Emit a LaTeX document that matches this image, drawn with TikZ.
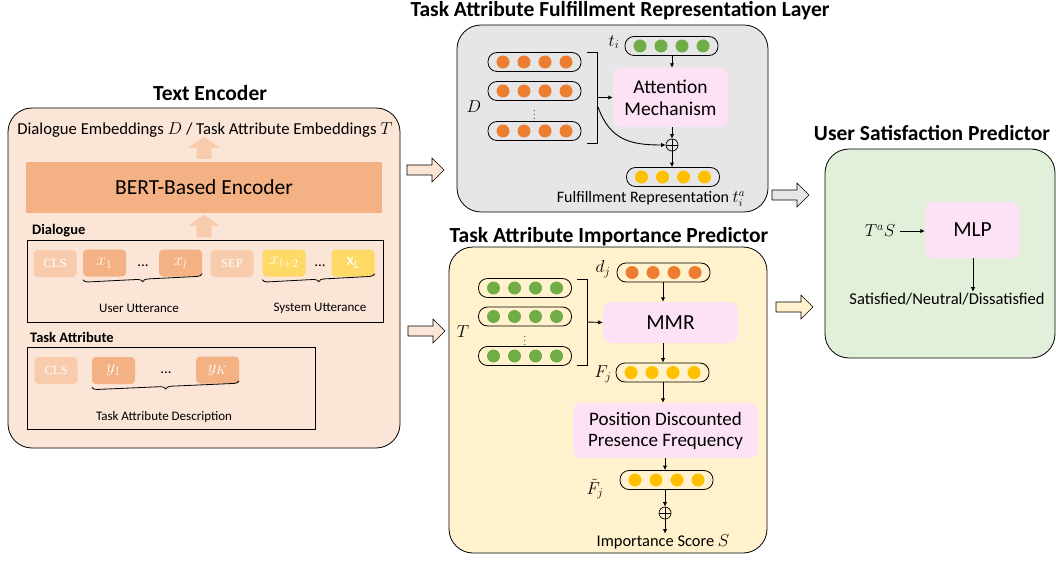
\documentclass[tikz,border=0pt]{standalone}
\usepackage{fontspec}
\setmainfont{Carlito}
\newfontfamily\tokfont{Liberation Serif}
\usetikzlibrary{arrows.meta,decorations.pathreplacing}

\definecolor{peachbg}{HTML}{FBE5D6}
\definecolor{bertfill}{HTML}{F4B183}
\definecolor{tokpale}{HTML}{F8CBAD}
\definecolor{tokyellow}{HTML}{FFD966}
\definecolor{graybg}{HTML}{E7E6E6}
\definecolor{yellowbg}{HTML}{FFF2CC}
\definecolor{greenbg}{HTML}{E2F0D9}
\definecolor{pinkbox}{HTML}{FCE2F4}
\definecolor{dotorange}{HTML}{ED7D31}
\definecolor{dotgreen}{HTML}{70AD47}
\definecolor{dotyellow}{HTML}{FFC000}

% vector of four dots: name, x, y, colour
\newcommand{\vecrow}[4]{%
  \node[pill] (#1) at (#2,#3) {};
  \foreach \k in {-1.5,-0.5,0.5,1.5}
    \fill[#4] (#1.center) ++(\k*21,0) circle (6.5pt);
}
% block arrow to the right: x, y, fill
\newcommand{\rarrow}[3]{%
  \filldraw[fill=#3, line width=0.6pt] (#1,#2)
    +(0,-5) -- +(25,-5) -- +(25,-12) -- +(37,0) -- +(25,12) -- +(25,5) -- +(0,5) -- cycle;
}
% block arrow upwards: x, y of tip
\newcommand{\uparr}[2]{%
  \fill[tokpale] (#1,#2)
    -- +(16,11) -- +(7.5,11) -- +(7.5,22) -- +(-7.5,22) -- +(-7.5,11) -- +(-16,11) -- cycle;
}

\begin{document}
\begin{tikzpicture}[x=1pt,y=-1pt,
  panel/.style={draw, line width=0.8pt, rounded corners=24pt, inner sep=0pt},
  title/.style={font=\bfseries\fontsize{21.5}{24}\selectfont},
  label/.style={font=\fontsize{13}{15}\selectfont, inner sep=1pt},
  head/.style={font=\bfseries\fontsize{14.5}{16}\selectfont, inner sep=1pt, anchor=west},
  mathlab/.style={font=\fontsize{17}{20}\selectfont, inner sep=1pt},
  tok/.style={rounded corners=4pt, minimum width=43pt, minimum height=27pt, inner sep=0pt, text=white},
  tokmath/.style={tok, font=\fontsize{17}{19}\selectfont},
  toktxt/.style={tok, fill=tokpale, font=\tokfont\fontsize{12.5}{15}\selectfont},
  pill/.style={draw, line width=0.8pt, rounded corners=9pt, minimum width=93pt, minimum height=19pt},
  module/.style={fill=pinkbox, rounded corners=8pt, inner sep=0pt},
  sumnode/.style={circle, draw, line width=0.7pt, minimum size=12pt, inner sep=0pt,
    path picture={\draw (path picture bounding box.north) -- (path picture bounding box.south)
      (path picture bounding box.west) -- (path picture bounding box.east);}},
  link/.style={-{Latex[length=4.5pt,width=4.5pt]}, line width=0.9pt},
  brk/.style={line width=0.8pt},
  ubrace/.style={decorate, decoration={brace, mirror, amplitude=5pt}, line width=0.8pt},
]

\path [use as bounding box] (0,0) rectangle (1056,561);

% TEXT ENCODER
\node[title] (enctitle) at (210,93) {Text Encoder};
\node[panel, fill=peachbg, minimum width=392pt, minimum height=340pt] (enc) at (204,278) {};
\node[font=\fontsize{16.7}{19}\selectfont] (embtxt) at (205,130) {Dialogue Embeddings $D$ / Task Attribute Embeddings $T$};
\uparr{204}{137}
\node[fill=bertfill, minimum width=356pt, minimum height=51pt, font=\fontsize{21.5}{25}\selectfont] (bert) at (204,187.5) {BERT-Based Encoder};
\uparr{204}{215}

\node[head] (dlglabel) at (31,231) {Dialogue};
\node[draw, line width=0.8pt, minimum width=356pt, minimum height=82pt] (dlgbox) at (205,281) {};
\node[toktxt] (cls1) at (55,263.5) {CLS};
\node[tokmath, fill=bertfill] (x1) at (104.5,263) {$x_1$};
\node[font=\fontsize{15}{16}\selectfont] (dots1) at (143,266) {...};
\node[tokmath, fill=bertfill] (xl) at (180.5,263) {$x_l$};
\node[toktxt] (sep) at (232,263.5) {SEP};
\node[tokmath, fill=tokyellow] (xl2) at (284,263) {$x_{l+2}$};
\node[font=\fontsize{15}{16}\selectfont] (dots2) at (320,266) {...};
\node[tokmath, fill=tokyellow] (xL) at (353,263) {$\mathrm{x}_{\mathrm{L}}$};
\draw[ubrace] (x1.south west) ++(0,3) -- ([yshift=3pt]xl.south east);
\draw[ubrace] (xl2.south west) ++(0,3) -- ([yshift=3pt]xL.south east);
\node[label] (usertxt) at (139,308) {User Utterance};
\node[label] (systxt) at (320,308) {System Utterance};

\node[head] (talabel) at (29,337) {Task Attribute};
\node[draw, line width=0.8pt, minimum width=288pt, minimum height=82pt] (tabox) at (171,388) {};
\node[toktxt] (cls2) at (56,370.5) {CLS};
\node[tokmath, fill=bertfill] (y1) at (113.5,370.5) {$y_1$};
\node[font=\fontsize{15}{16}\selectfont] (dots3) at (166,373) {...};
\node[tokmath, fill=bertfill] (yK) at (217.5,370) {$y_K$};
\draw[ubrace] (y1.south west) ++(0,3) -- ([yshift=3pt]yK.south east);
\node[label] (tadesc) at (164,417) {Task Attribute Description};

% ARROWS BETWEEN PANELS
\rarrow{407}{170}{peachbg}
\rarrow{408}{331}{peachbg}
\rarrow{772}{195}{graybg}
\rarrow{776}{307}{yellowbg}

% FULFILLMENT REPRESENTATION LAYER
\node[title] (fultitle) at (620,11) {Task Attribute Fulfillment Representation Layer};
\node[panel, fill=graybg, minimum width=311pt, minimum height=187pt] (ful) at (612.5,118.5) {};
\vecrow{d1}{534.5}{62}{dotorange}
\vecrow{d2}{534.5}{91}{dotorange}
\vecrow{d3}{534.5}{131}{dotorange}
\node[font=\fontsize{8}{8}\selectfont] (ddots) at (534.5,112) {$\vdots$};
\node[mathlab] (dlab) at (474,107) {$D$};
\draw[brk] (587,52) -- (597,52) -- (597,143) -- (587,143);
\coordinate (dmid) at (597,97.5);
\coordinate (dcurve) at (598,107);
\vecrow{ti}{671.5}{46}{dotgreen}
\node[mathlab] (tilab) at (614,42) {$t_i$};
\node[module, minimum width=115pt, minimum height=59pt, align=center, font=\fontsize{19.5}{22}\selectfont] (attn) at (670.5,97.5) {Attention\\Mechanism};
\node[sumnode] (fsum) at (672,145) {};
\vecrow{tia}{673}{177}{dotyellow}
\node[font=\fontsize{16}{18}\selectfont, inner sep=0pt] (fultxt) at (651,199) {Fulfillment Representation $t_i^a$};
\draw[link] (dmid) -- (attn.west);
\draw[link] (ti.south -| fsum) -- (attn.north -| fsum);
\draw[link] (attn.south -| fsum) -- (fsum.north);
\draw[link] (dcurve) .. controls (610,140) and (630,145) .. (fsum.west);
\draw[link] (fsum.south) -- (tia.north -| fsum);

% IMPORTANCE PREDICTOR
\node[title] (imptitle) at (609,237) {Task Attribute Importance Predictor};
\node[panel, fill=yellowbg, minimum width=318pt, minimum height=306pt] (imp) at (608,400) {};
\vecrow{t1}{525}{288}{dotgreen}
\vecrow{t2}{525}{316.5}{dotgreen}
\vecrow{t3}{525}{356}{dotgreen}
\node[font=\fontsize{8}{8}\selectfont] (tdots) at (525,338) {$\vdots$};
\node[mathlab] (tlab) at (463,332) {$T$};
\draw[brk] (577,279) -- (587,279) -- (587,365) -- (577,365);
\coordinate (tmid) at (587,322);
\vecrow{dj}{663.5}{272.5}{dotorange}
\node[mathlab] (djlab) at (603,269) {$d_j$};
\node[module, minimum width=135pt, minimum height=41pt, font=\fontsize{21.5}{25}\selectfont] (mmr) at (670.5,322.5) {MMR};
\vecrow{fj}{662.5}{372.5}{dotyellow}
\node[mathlab] (fjlab) at (603,374) {$F_j$};
\node[module, minimum width=185pt, minimum height=55pt, align=center, font=\fontsize{19}{21}\selectfont] (pdpf) at (665.5,430.5) {Position Discounted\\Presence Frequency};
\vecrow{ft}{666.5}{480}{dotyellow}
\node[mathlab] (ftlab) at (595,489) {$\tilde{F}_j$};
\node[sumnode] (isum) at (665,513) {};
\node[font=\fontsize{16.4}{18}\selectfont, inner sep=1pt] (imptxt) at (663,542) {Importance Score $S$};
\draw[link] (tmid) -- (mmr.west);
\draw[link] (dj.south -| 663,0) -- (mmr.north -| 663,0);
\draw[link] (mmr.south -| 663,0) -- (fj.north -| 663,0);
\draw[link] (fj.south -| 663,0) -- (pdpf.north -| 663,0);
\draw[link] (pdpf.south -| 665,0) -- (ft.north -| 665,0);
\draw[link] (ft.south -| isum) -- (isum.north);
\draw[link] (isum.south) -- (imptxt.north -| isum);

% SATISFACTION PREDICTOR
\node[title] (sattitle) at (932,133) {User Satisfaction Predictor};
\node[panel, fill=greenbg, minimum width=230pt, minimum height=209pt] (sat) at (940,253.5) {};
\node[module, minimum width=95pt, minimum height=56pt, font=\fontsize{21.5}{25}\selectfont] (mlp) at (972.5,230) {MLP};
\node[mathlab] (tas) at (880,231) {$T^aS$};
\node[font=\fontsize{16.5}{19}\selectfont, inner sep=1pt] (sattxt) at (947,299) {Satisfied/Neutral/Dissatisfied};
\draw[link] (tas.east) ++(4,0) coordinate (tasend) (tasend) -- (mlp.west |- tasend);
\draw[link] (mlp.south -| 973,0) -- (sattxt.north -| 973,0);

\end{tikzpicture}
\end{document}
